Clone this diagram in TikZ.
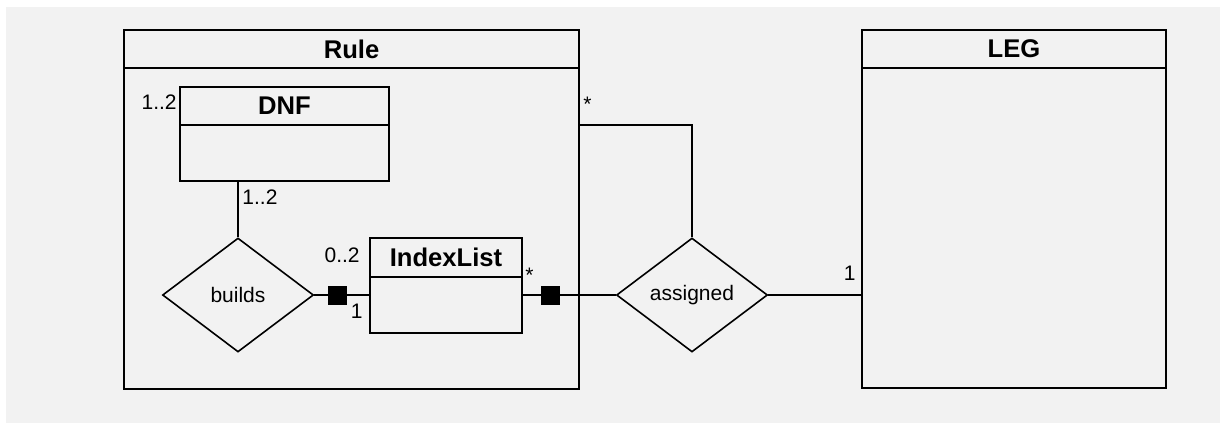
\documentclass[tikz,border=0pt]{standalone}
\usepackage{fontspec}
\setmainfont{Liberation Sans}
\usepackage{tikz}
\usetikzlibrary{shapes,positioning,calc}
\definecolor{canvasgray}{RGB}{242,242,242}

\begin{document}
\begin{tikzpicture}[
    x=0.5pt, y=-0.5pt,
    head/.style={rectangle, draw, line width=1.2pt, outer sep=0pt, inner sep=0pt, minimum height=19pt, font=\fontsize{12.8}{15}\selectfont\bfseries},
    body/.style={rectangle, draw, line width=1.2pt, outer sep=0pt, inner sep=0pt},
    rel/.style={diamond, draw, line width=0.8pt, inner sep=0pt, minimum width=75.5pt, minimum height=57pt, font=\fontsize{10.5}{12.6}\selectfont},
    mult/.style={inner sep=0pt, font=\fontsize{10.5}{12.6}\selectfont},
    sq/.style={rectangle, fill=black, inner sep=0pt, minimum size=9.5pt},
    link/.style={line width=0.8pt}
  ]
    \fill[canvasgray] (6,7) rectangle (1220,423);
    \useasboundingbox (0,0) rectangle (1220,423);

    % outer classes
    \node[head, minimum width=227.5pt] (ruleh) at (351.5,49) {Rule};
    \node[body, below=0pt of ruleh, minimum width=227.5pt, minimum height=160.5pt] (rule) {};
    \node[head, minimum width=152pt] (legh) at (1014,49) {LEG};
    \node[body, below=0pt of legh, minimum width=152pt, minimum height=160pt] (leg) {};

    % inner classes
    \node[head, line width=1pt, minimum width=104.5pt] (dnfh) at (284.5,106) {DNF};
    \node[body, line width=1pt, below=0pt of dnfh, minimum width=104.5pt, minimum height=28pt] (dnf) {};
    \node[head, line width=1pt, minimum width=76pt, minimum height=19.5pt] (idxh) at (446,257.5) {IndexList};
    \node[body, line width=1pt, below=0pt of idxh, minimum width=76pt, minimum height=28pt] (idx) {};

    % relationships
    \node[rel] (builds) at (238,295) {builds};
    \node[rel] (assigned) at (692,295) {assigned};
    \coordinate (ruletap) at (rule.east |- dnf.north);

    \draw[link] (builds) -- (builds |- dnf.south);
    \draw[link] (builds) -- (builds -| idx.west);
    \draw[link] (assigned) -- (assigned -| idx.east);
    \draw[link] (assigned.north) |- (ruletap);
    \draw[link] (assigned) -- (assigned -| leg.west);

    \node[sq] (sqb) at (337,295) {};
    \node[sq] (sqa) at (550,295) {};

    % multiplicities
    \node[mult, anchor=base east] (mdnf) at ([xshift=-1.5pt, yshift=-1.5pt]dnfh.west) {1..2};
    \node[mult, anchor=base west] (mdnfb) at ([xshift=2pt, yshift=-11.5pt]dnf.south -| builds) {1..2};
    \node[mult, anchor=base east] (midx) at ([xshift=-5pt, yshift=-2.25pt]idxh.west) {0..2};
    \node[mult, anchor=base east] (mone) at ([xshift=-3.5pt, yshift=-11.5pt]builds.east -| idx.west) {1};
    \node[mult, anchor=base west] (mstar) at ([xshift=1.5pt, yshift=-2.5pt]idxh.south east) {*};
    \node[mult, anchor=base west] (mrule) at ([xshift=2pt, yshift=7pt]ruletap) {*};
    \node[mult, anchor=base east] (mleg) at ([xshift=-3pt, yshift=7.5pt]assigned -| leg.west) {1};
  \end{tikzpicture}
\end{document}
